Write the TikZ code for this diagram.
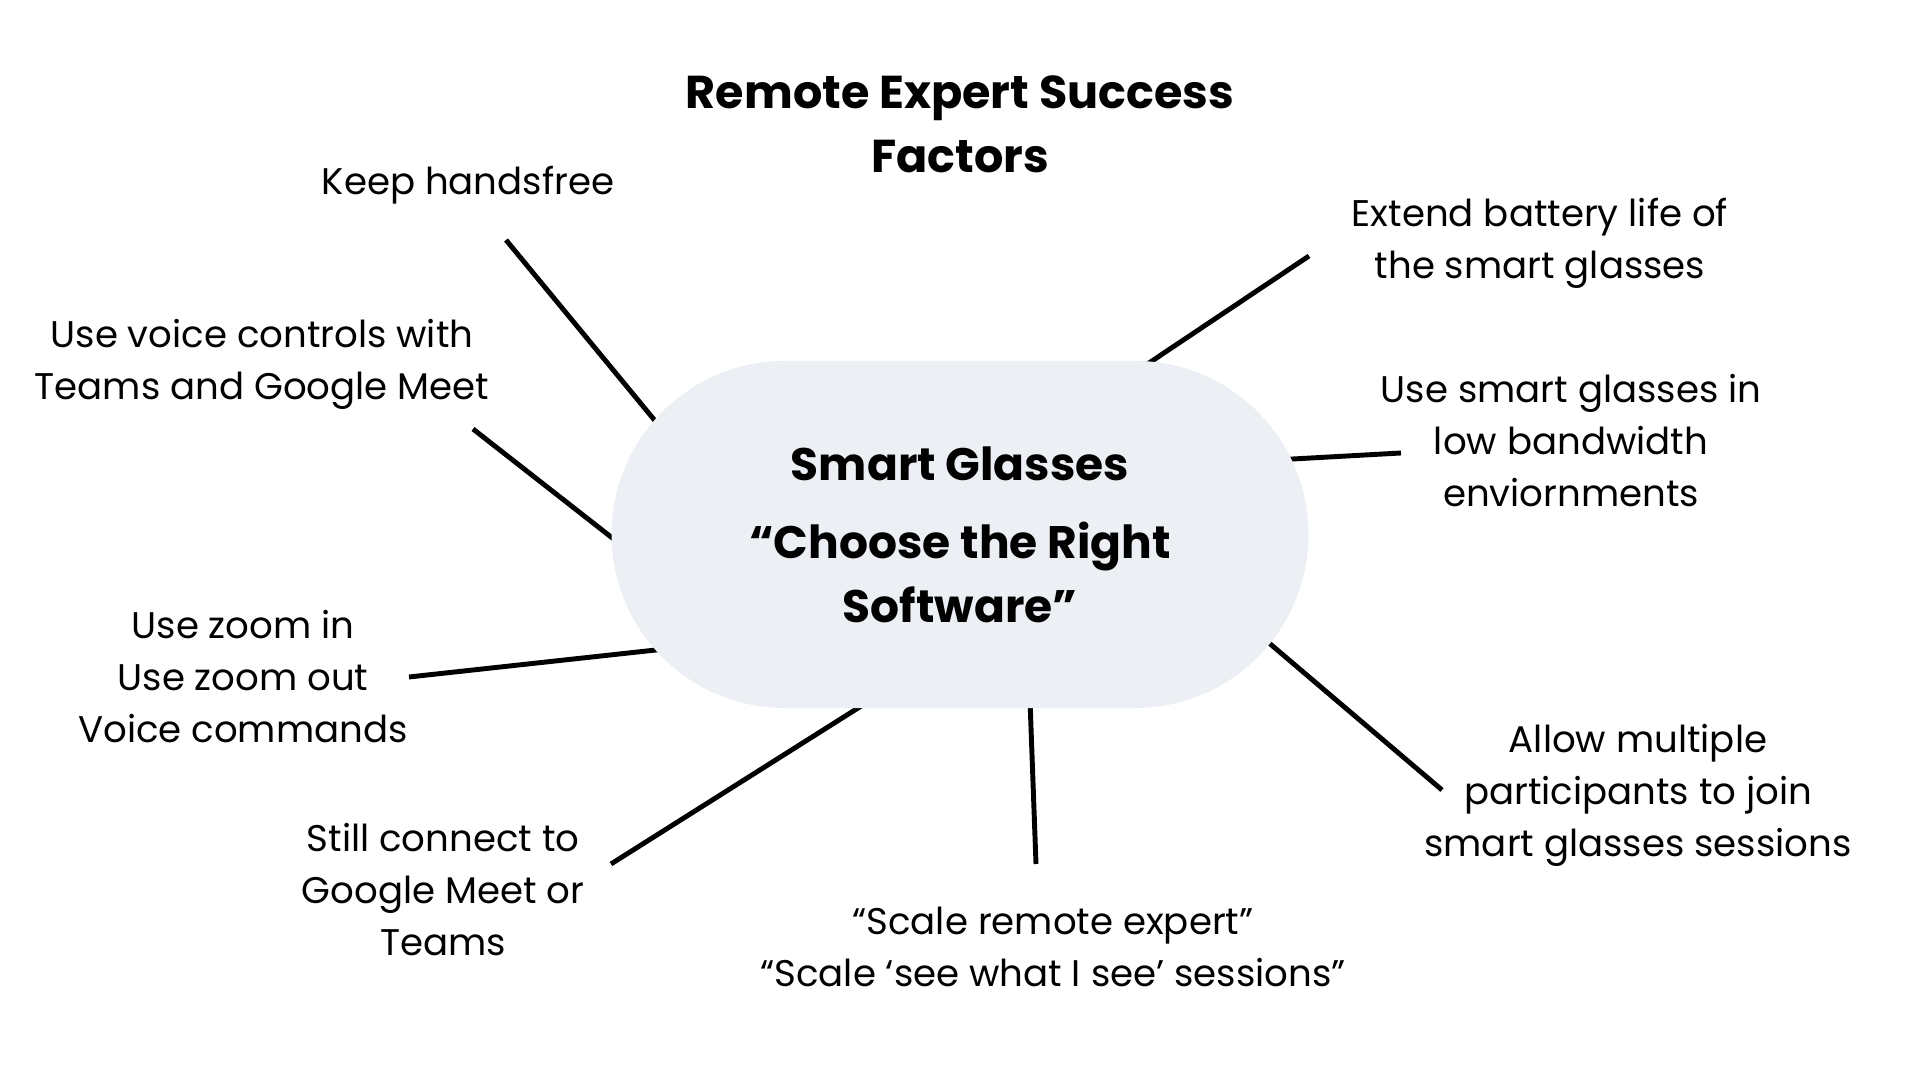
\documentclass[tikz,border=0pt]{standalone}
\usepackage{fontspec}
\setmainfont{Poppins}
\usetikzlibrary{shapes.misc,backgrounds}

\definecolor{hubfill}{RGB}{236,239,244}

\begin{document}
\begin{tikzpicture}[x=0.01cm, y=-0.01cm,
factor/.style={align=center, inner sep=0pt, font=\fontsize{10.55}{14.8}\selectfont},
heading/.style={align=center, inner sep=0pt, font=\fontsize{13.1}{18.2}\selectfont\bfseries},
hubshape/.style={rounded rectangle, fill=hubfill, minimum width=7.2cm, minimum height=3.47cm, align=center, font=\fontsize{12.95}{18.2}\selectfont\bfseries},
spoke/.style={line width=1.4pt}]
\useasboundingbox (0,0) rectangle (1920,1080);

\node[heading] (title) at (960,124) {Remote Expert Success\\Factors};
\node[hubshape] (hub) at (960,534.5) {Smart Glasses\\[4pt]“Choose the Right\\Software”};

\node[factor] (hands) at (468,185) {Keep handsfree};
\node[factor] (voice) at (262,364) {Use voice controls with\\Teams and Google Meet};
\node[factor] (zoomcmd) at (243,677) {Use zoom in\\Use zoom out\\Voice commands};
\node[factor] (meet) at (443,890) {Still connect to\\Google Meet or\\Teams};
\node[factor] (scale) at (1053,947) {“Scale remote expert”\\“Scale ‘see what I see’ sessions”};
\node[factor] (multi) at (1638,795) {Allow multiple\\participants to join\\smart glasses sessions};
\node[factor] (bandw) at (1571,441) {Use smart glasses in\\low bandwidth\\enviornments};
\node[factor] (battery) at (1540,243.5) {Extend battery life of\\the smart glasses};

% spoke ends
\coordinate (hands-o) at (506,240);   \coordinate (hands-i) at (661,428);
\coordinate (voice-o) at (473,429);   \coordinate (voice-i) at (620,544);
\coordinate (zoomcmd-o) at (409,677); \coordinate (zoomcmd-i) at (665,649);
\coordinate (meet-o) at (611,864);    \coordinate (meet-i) at (866,703);
\coordinate (scale-o) at (1036,864);  \coordinate (scale-i) at (1030,700);
\coordinate (multi-o) at (1442,790);  \coordinate (multi-i) at (1262,637);
\coordinate (bandw-o) at (1401,453);  \coordinate (bandw-i) at (1284,459.5);
\coordinate (battery-o) at (1309,256); \coordinate (battery-i) at (1143,367);

\begin{scope}[on background layer]
\foreach \s in {hands,voice,zoomcmd,meet,scale,multi,bandw,battery}
  \draw[spoke] (\s-o) -- (\s-i);
\end{scope}
\end{tikzpicture}
\end{document}
